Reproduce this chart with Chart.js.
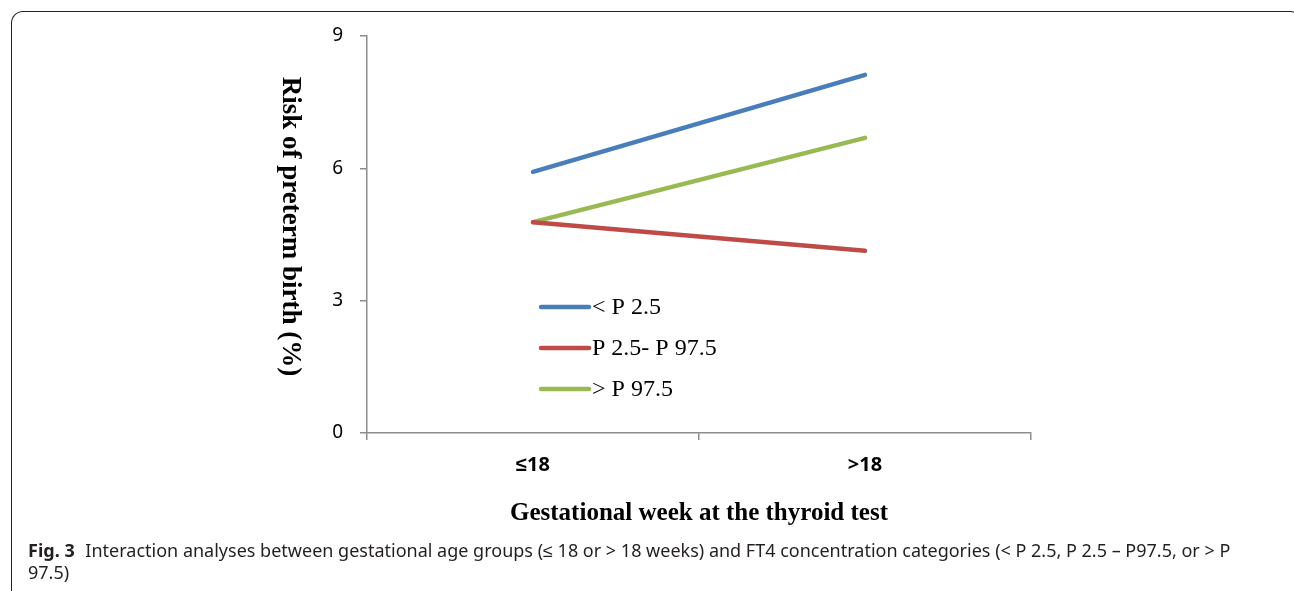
<!DOCTYPE html>
<html>
<head>
<meta charset="utf-8">
<script src="https://cdn.jsdelivr.net/npm/chart.js@4.4.0/dist/chart.umd.min.js"></script>
<style>
  html, body { margin: 0; padding: 0; background: #fff; width: 1294px; height: 591px; overflow: hidden; }
  #frame { position: absolute; left: 11px; top: 11px; width: 1290px; height: 600px;
           border-top: 1.5px solid #222; border-left: 1.5px solid #222; border-right: 1.5px solid #222;
           border-top-left-radius: 12px; border-top-right-radius: 10px; box-sizing: border-box; }
  #wrap { position: absolute; left: 0; top: 0; width: 1294px; height: 591px; }
  #caption { position: absolute; left: 28px; top: 539px; font-family: "Noto Sans", sans-serif;
             font-size: 18px; line-height: 22px; color: #231f20; white-space: nowrap; }
  #caption b { font-weight: 700; margin-right: 6px; }
</style>
</head>
<body>
<div id="frame"></div>
<div id="wrap"><canvas id="c" width="1294" height="591"></canvas></div>
<div id="caption"><b>Fig. 3</b> Interaction analyses between gestational age groups (≤ 18 or &gt; 18 weeks) and FT4 concentration categories (&lt; P 2.5, P 2.5 – P97.5, or &gt; P<br>97.5)</div>
<script>
const categories = ['≤18', '>18'];
const seriesNames = ['< P 2.5', 'P 2.5- P 97.5', '> P 97.5'];
const belowP25 = [5.92, 8.12];
const p25toP975 = [4.78, 4.13];
const aboveP975 = [4.78, 6.69];
const yTickValues = [0, 3, 6, 9];
const yTitle = 'Risk of preterm birth (%)';
const xTitle = 'Gestational week at the thyroid test';

const colors = ['#4a7ebb', '#be4b48', '#98b954'];
const axisColor = '#8c8c8c';

const yTitlePlugin = {
  id: 'yTitleRot',
  afterDraw(chart) {
    const ctx = chart.ctx, a = chart.chartArea;
    ctx.save();
    ctx.translate(a.left - 77, (a.top + a.bottom) / 2 - 8);
    ctx.rotate(Math.PI / 2);
    ctx.font = 'bold 27px "Liberation Serif", serif';
    ctx.fillStyle = '#000';
    ctx.textAlign = 'center';
    ctx.textBaseline = 'middle';
    ctx.fillText(yTitle, 0, 0);
    ctx.restore();
  }
};

const legendPlugin = {
  id: 'insideLegend',
  afterDatasetsDraw(chart) {
    const ctx = chart.ctx, a = chart.chartArea;
    ctx.save();
    chart.data.datasets.forEach((ds, i) => {
      const y = a.top + 271 + i * 41;
      const x0 = a.left + 174;
      ctx.strokeStyle = ds.borderColor;
      ctx.lineWidth = 4.5;
      ctx.lineCap = 'round';
      ctx.beginPath();
      ctx.moveTo(x0, y);
      ctx.lineTo(x0 + 48, y);
      ctx.stroke();
      ctx.font = '24px "Liberation Serif", serif';
      ctx.fillStyle = '#000';
      ctx.textAlign = 'left';
      ctx.textBaseline = 'middle';
      ctx.fillText(ds.label, x0 + 51, y + 1);
    });
    ctx.restore();
  }
};

const seriesValues = [belowP25, p25toP975, aboveP975];

new Chart(document.getElementById('c'), {
  type: 'line',
  data: {
    labels: categories,
    datasets: seriesNames.map((n, i) => ({
      label: n,
      data: seriesValues[i],
      borderColor: colors[i],
      backgroundColor: colors[i],
      borderWidth: 4.5,
      borderCapStyle: 'round',
      pointRadius: 0,
      tension: 0
    }))
  },
  options: {
    responsive: false,
    animation: false,
    devicePixelRatio: 1,
    layout: { padding: { left: 307, right: 263, top: 36, bottom: 58 } },
    plugins: { legend: { display: false }, tooltip: { enabled: false } },
    scales: {
      x: {
        type: 'category',
        offset: true,
        grid: { offset: true, drawOnChartArea: false, tickLength: 7, color: axisColor, lineWidth: 1.5 },
        border: { color: axisColor, width: 1.5 },
        ticks: { color: '#000', padding: 13, font: { family: '"Noto Sans", sans-serif', size: 20, weight: 'bold' } },
        title: { display: true, text: xTitle, color: '#000', padding: { top: 21, bottom: 4 },
                 font: { family: '"Liberation Serif", serif', size: 25, weight: 'bold' } },
        afterFit(s) { s.height = 100; }
      },
      y: {
        min: 0, max: 9,
        afterBuildTicks(s) { s.ticks = yTickValues.map(v => ({ value: v })); },
        grid: { drawOnChartArea: false, tickLength: 7, color: axisColor, lineWidth: 1.5 },
        border: { color: axisColor, width: 1.5 },
        ticks: { color: '#000', padding: 17, font: { family: '"Noto Sans", sans-serif', size: 19 } },
        afterFit(s) { s.width = 60; }
      }
    }
  },
  plugins: [yTitlePlugin, legendPlugin]
});
</script>
</body>
</html>
